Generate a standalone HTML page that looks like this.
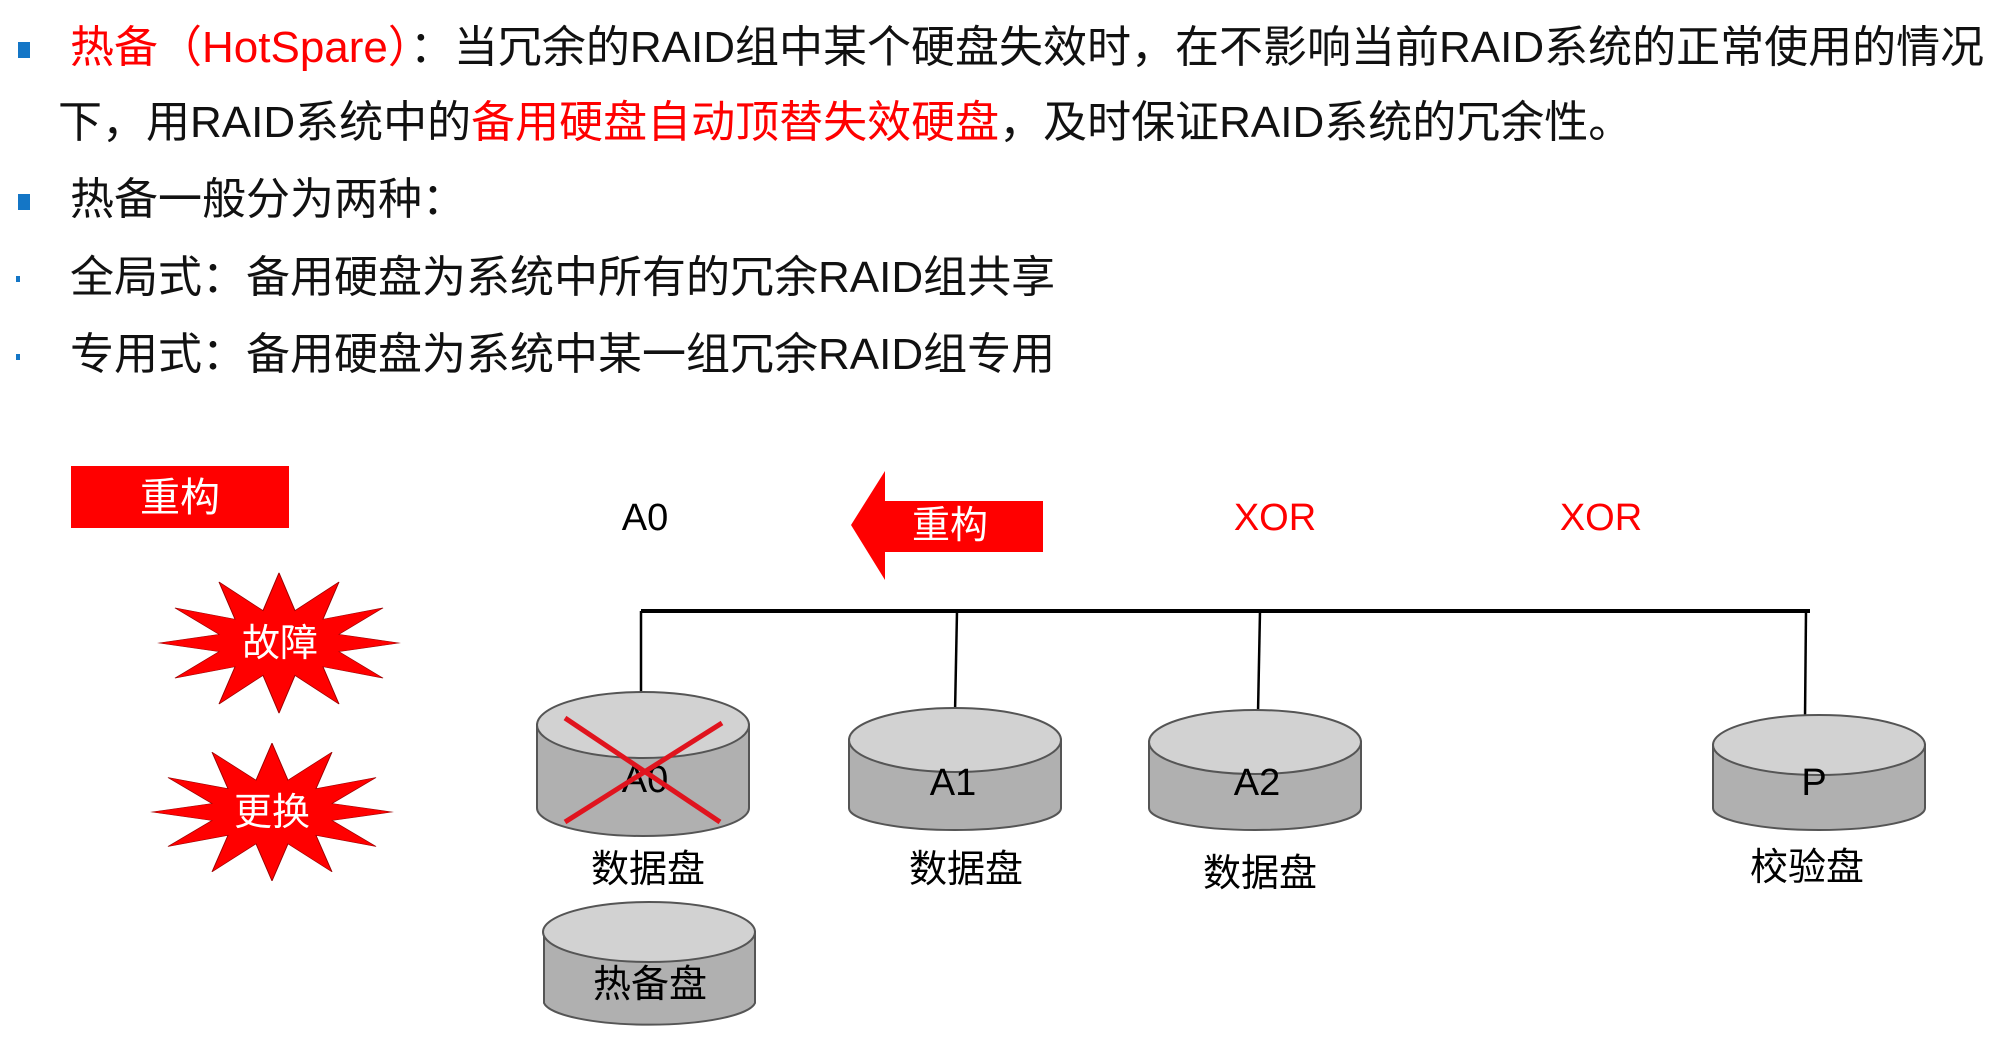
<!DOCTYPE html>
<html><head><meta charset="utf-8"><style>
html,body{margin:0;padding:0;background:#fff;}
body{width:2013px;height:1039px;position:relative;overflow:hidden;font-family:"Liberation Sans","Noto Sans CJK SC",sans-serif;}
.t{position:absolute;font-size:44px;color:#111;white-space:nowrap;line-height:1;}
.r{color:#f00;}
.sq{position:absolute;width:12px;height:16px;background:#1476c6;}
.dot{position:absolute;width:4px;height:6px;background:#1476c6;}
</style></head><body>
<div class="sq" style="left:18px;top:42px"></div>
<div class="t" style="left:70px;top:26px"><span class="r">热备（HotSpare）</span>：当冗余的RAID组中某个硬盘失效时，在不影响当前RAID系统的正常使用的情况</div>
<div class="t" style="left:58px;top:101px">下，用RAID系统中的<span class="r">备用硬盘自动顶替失效硬盘</span>，及时保证RAID系统的冗余性。</div>
<div class="sq" style="left:18px;top:194px"></div>
<div class="t" style="left:70px;top:178px">热备一般分为两种：</div>
<div class="dot" style="left:16px;top:276px"></div>
<div class="t" style="left:70px;top:256px">全局式：备用硬盘为系统中所有的冗余RAID组共享</div>
<div class="dot" style="left:16px;top:354px"></div>
<div class="t" style="left:70px;top:333px">专用式：备用硬盘为系统中某一组冗余RAID组专用</div>

<svg width="2013" height="1039" style="position:absolute;left:0;top:0" font-family="Liberation Sans,Noto Sans CJK SC,sans-serif">
<rect x="71" y="466" width="218" height="62" fill="#f00"/>
<text x="180" y="511" font-size="40" fill="#fff" text-anchor="middle">重构</text>
<text x="645" y="530" font-size="38" text-anchor="middle">A0</text>
<polygon points="851,525 885,471 885,501 1043,501 1043,552 885,552 885,580" fill="#f00"/>
<text x="950" y="538" font-size="38" fill="#fff" text-anchor="middle">重构</text>
<text x="1275" y="530" font-size="38" fill="#f00" text-anchor="middle">XOR</text>
<text x="1601" y="530" font-size="38" fill="#f00" text-anchor="middle">XOR</text>

<g stroke="#000" fill="none">
<line x1="641" y1="611" x2="1810" y2="611" stroke-width="4"/>
<line x1="641" y1="611" x2="641" y2="697" stroke-width="2.5"/>
<line x1="957" y1="611" x2="955" y2="713" stroke-width="2.5"/>
<line x1="1260" y1="611" x2="1258" y2="713" stroke-width="2.5"/>
<line x1="1806" y1="611" x2="1805" y2="719" stroke-width="2.5"/>
</g>

<g fill="#f00" stroke="#900" stroke-width="1">
<polygon transform="translate(279,643) scale(1,0.54)" points="120,0 60,16 104,65 44,44 60,113 16,60 0,130 -16,60 -60,113 -44,44 -104,65 -60,16 -120,0 -60,-16 -104,-65 -44,-44 -60,-113 -16,-60 0,-130 16,-60 60,-113 44,-44 104,-65 60,-16"/>
<polygon transform="translate(272,812) scale(1,0.53)" points="120,0 60,16 104,65 44,44 60,113 16,60 0,130 -16,60 -60,113 -44,44 -104,65 -60,16 -120,0 -60,-16 -104,-65 -44,-44 -60,-113 -16,-60 0,-130 16,-60 60,-113 44,-44 104,-65 60,-16"/>
</g>
<text x="280" y="656" font-size="38" fill="#fff" text-anchor="middle">故障</text>
<text x="272" y="825" font-size="38" fill="#fff" text-anchor="middle">更换</text>

<g stroke="#555" stroke-width="2">
<path d="M537,725 L537,808 A106,28 0 0 0 749,808 L749,725 Z" fill="#b0b0b0"/>
<ellipse cx="643" cy="725" rx="106" ry="33" fill="#d2d2d2"/>
<path d="M849,740 L849,808 A106,22 0 0 0 1061,808 L1061,740 Z" fill="#b0b0b0"/>
<ellipse cx="955" cy="740" rx="106" ry="32" fill="#d2d2d2"/>
<path d="M1149,742 L1149,808 A106,22 0 0 0 1361,808 L1361,742 Z" fill="#b0b0b0"/>
<ellipse cx="1255" cy="742" rx="106" ry="32" fill="#d2d2d2"/>
<path d="M1713,745 L1713,808 A106,22 0 0 0 1925,808 L1925,745 Z" fill="#b0b0b0"/>
<ellipse cx="1819" cy="745" rx="106" ry="30" fill="#d2d2d2"/>
<path d="M544,932 L544,1003 A106,24 0 0 0 755,1003 L755,932 Z" fill="#b0b0b0"/>
<ellipse cx="649" cy="932" rx="106" ry="30" fill="#d2d2d2"/>
</g>
<g font-size="38" text-anchor="middle" fill="#000">
<text x="645" y="792">A0</text>
<text x="953" y="795">A1</text>
<text x="1257" y="795">A2</text>
<text x="1814" y="795">P</text>
<text x="648" y="882">数据盘</text>
<text x="966" y="882">数据盘</text>
<text x="1260" y="886">数据盘</text>
<text x="1807" y="880">校验盘</text>
<text x="650" y="997">热备盘</text>
</g>
<g stroke="#e0141e" stroke-width="5">
<line x1="565" y1="718" x2="720" y2="822"/>
<line x1="565" y1="822" x2="722" y2="723"/>
</g>
</svg>
</body></html>
